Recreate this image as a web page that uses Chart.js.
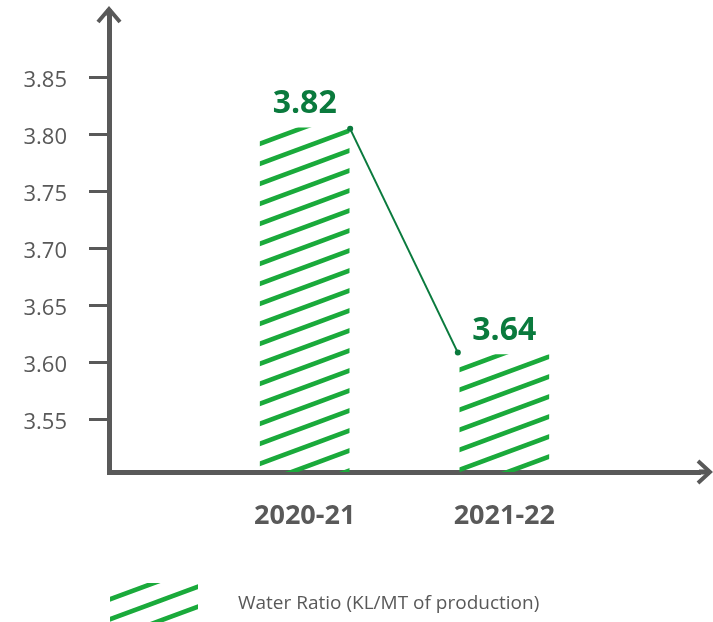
<!DOCTYPE html>
<html>
<head>
<meta charset="utf-8">
<script src="https://cdn.jsdelivr.net/npm/chart.js@4/dist/chart.umd.min.js"></script>
<style>
  html, body { margin: 0; padding: 0; background: #fff; }
  canvas { display: block; }
</style>
</head>
<body>
<canvas id="water_chart" width="713" height="622"></canvas>
<script>
// values
const categories = ['2020-21', '2021-22'];
const barValues = [3.806, 3.607];      // bar tops as drawn against the axis
const valueLabels = ['3.82', '3.64'];  // printed labels
const yTicks = [3.55, 3.60, 3.65, 3.70, 3.75, 3.80, 3.85];
const seriesLabel = 'Water Ratio (KL/MT of production)';

const GREY = '#595959';
const STRIPE = '#1aaa3b';
const DARK_GREEN = '#0a7a3d';
const FONT = "'Open Sans', 'Noto Sans', sans-serif";

// diagonal hatch fill for the bars
function makeHatch(color) {
  const tile = document.createElement('canvas');
  tile.width = 54;
  tile.height = 20;
  const g = tile.getContext('2d');
  g.strokeStyle = color;
  g.lineWidth = 4.6;
  for (let k = -2; k <= 2; k++) {
    g.beginPath();
    g.moveTo(-10, 20 + 20 * k + 10 * 20 / 54);
    g.lineTo(64, 20 * k - 10 * 20 / 54);
    g.stroke();
  }
  return g.createPattern(tile, 'repeat');
}
const hatch = makeHatch(STRIPE);

// arrows, connector line, value labels and legend
const decorations = {
  id: 'decorations',
  afterDraw(chart) {
    const ctx = chart.ctx;
    const area = chart.chartArea;
    const bars = chart.getDatasetMeta(0).data;

    ctx.save();
    ctx.strokeStyle = GREY;
    ctx.lineWidth = 5;
    ctx.lineCap = 'butt';
    // y axis arrow
    const yx = chart.scales.y.right;
    ctx.beginPath();
    ctx.moveTo(yx, area.top + 1);
    ctx.lineTo(yx, 9);
    ctx.stroke();
    ctx.lineWidth = 4;
    ctx.beginPath();
    ctx.moveTo(yx - 11, 22);
    ctx.lineTo(yx, 9);
    ctx.lineTo(yx + 11, 22);
    ctx.stroke();
    // x axis arrow
    const xy = chart.scales.x.top;
    ctx.lineWidth = 5;
    ctx.beginPath();
    ctx.moveTo(area.right - 1, xy);
    ctx.lineTo(710, xy);
    ctx.stroke();
    ctx.lineWidth = 4;
    ctx.beginPath();
    ctx.moveTo(698, xy - 11);
    ctx.lineTo(710, xy);
    ctx.lineTo(698, xy + 11);
    ctx.stroke();

    // connector between bar corners
    const b0 = bars[0], b1 = bars[1];
    const p0 = { x: b0.x + b0.width / 2 + 1, y: b0.y + 1 };
    const p1 = { x: b1.x - b1.width / 2 - 2, y: b1.y - 2 };
    ctx.strokeStyle = DARK_GREEN;
    ctx.fillStyle = DARK_GREEN;
    ctx.lineWidth = 2;
    ctx.beginPath();
    ctx.moveTo(p0.x, p0.y);
    ctx.lineTo(p1.x, p1.y);
    ctx.stroke();
    [p0, p1].forEach(p => {
      ctx.beginPath();
      ctx.arc(p.x, p.y, 3, 0, Math.PI * 2);
      ctx.fill();
    });

    // value labels
    ctx.font = `bold 32px ${FONT}`;
    ctx.textAlign = 'center';
    ctx.textBaseline = 'alphabetic';
    bars.forEach((b, i) => {
      ctx.fillText(valueLabels[i], b.x, b.y - 15);
    });

    // legend
    ctx.fillStyle = hatch;
    ctx.fillRect(110, 583, 88, 39);
    ctx.fillStyle = GREY;
    ctx.font = `19px ${FONT}`;
    ctx.textAlign = 'left';
    ctx.textBaseline = 'middle';
    ctx.fillText(chart.data.datasets[0].label, 238, 604);
    ctx.restore();
  }
};

new Chart(document.getElementById('water_chart'), {
  type: 'bar',
  data: {
    datasets: [{
      label: seriesLabel,
      data: categories.map((c, i) => ({ x: i, y: barValues[i] })),
      backgroundColor: hatch,
      borderWidth: 0,
      barThickness: 89
    }]
  },
  options: {
    responsive: false,
    animation: false,
    devicePixelRatio: 1,
    layout: { padding: { top: 15, right: 13, left: 0, bottom: 0 } },
    scales: {
      x: {
        type: 'linear',
        position: 'bottom',
        offset: false,
        min: -0.98,
        max: 1.98,
        z: 1,
        grid: { display: false, drawTicks: false },
        border: { display: true, color: GREY, width: 5 },
        ticks: {
          autoSkip: false,
          maxRotation: 0,
          padding: 28,
          color: GREY,
          font: { family: FONT, size: 27, weight: 'bold' },
          callback: v => categories[v]
        },
        afterBuildTicks: s => { s.ticks = categories.map((c, i) => ({ value: i })); },
        afterFit: s => {
          s.height = 150;
          s.paddingLeft = 0;
          s.paddingRight = 0;
        }
      },
      y: {
        type: 'linear',
        min: 3.504,
        max: 3.905,
        z: 1,
        grid: {
          drawOnChartArea: false,
          drawTicks: true,
          tickLength: 20,
          color: GREY,
          lineWidth: 3
        },
        border: { display: true, color: GREY, width: 5 },
        ticks: {
          padding: 22,
          labelOffset: 3,
          color: GREY,
          font: { family: FONT, size: 22 },
          callback: v => Number(v).toFixed(2)
        },
        afterBuildTicks: s => { s.ticks = yTicks.map(v => ({ value: v })); },
        afterFit: s => {
          s.width = 109;
          s.paddingTop = 0;
          s.paddingBottom = 0;
        }
      }
    },
    plugins: {
      legend: { display: false },
      tooltip: { enabled: false }
    }
  },
  plugins: [decorations]
});
</script>
</body>
</html>
